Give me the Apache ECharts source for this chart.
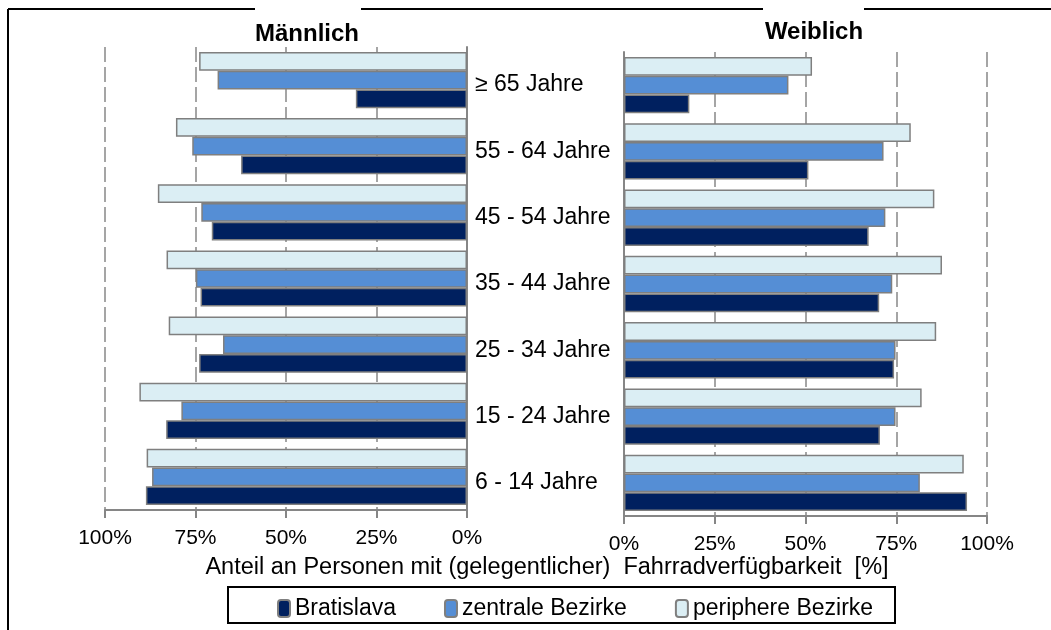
<!DOCTYPE html>
<html>
<head>
<meta charset="utf-8">
<title>Fahrradverfügbarkeit</title>
<script src="https://cdn.jsdelivr.net/npm/echarts@6/dist/echarts.min.js"></script>
<style>
    html, body { margin: 0; padding: 0; background: #fff; }
    #chart { width: 1051px; height: 630px; }
</style>
</head>
<body>
<div id="chart"></div>
<script>
// Altersgruppen, von unten nach oben
var ageGroups = ['6 - 14 Jahre', '15 - 24 Jahre', '25 - 34 Jahre', '35 - 44 Jahre', '45 - 54 Jahre', '55 - 64 Jahre', '≥ 65 Jahre'];
var seriesNames = ['Bratislava', 'zentrale Bezirke', 'periphere Bezirke'];
var pctTicks = [0, 25, 50, 75, 100];

// Männlich
var maleBratislava = [88.7, 83.1, 74.0, 73.6, 70.5, 62.4, 30.7];
var maleZentral = [87.0, 78.9, 67.4, 74.9, 73.4, 75.9, 68.9];
var malePeripher = [88.5, 90.5, 82.4, 83.0, 85.4, 80.4, 74.0];

// Weiblich
var femaleBratislava = [94.5, 70.5, 74.4, 70.3, 67.4, 50.8, 18.0];
var femaleZentral = [81.5, 74.8, 74.8, 73.9, 72.0, 71.5, 45.3];
var femalePeripher = [93.6, 82.0, 86.0, 87.6, 85.5, 79.0, 51.8];

var barColors = ['#00205f', '#558ed5', '#dbeef4'];
var FONT = '"Liberation Sans", Arial, sans-serif';

/*==========================================
 * Wertachse (Prozent)
 */
function makeValueAxis(gridIndex, inverse) {
    return {
        type: 'value',
        gridIndex: gridIndex,
        inverse: inverse,
        min: pctTicks[0],
        max: pctTicks[pctTicks.length - 1],
        interval: 25,
        axisLine: { show: true, lineStyle: { color: '#868686', width: 2 } },
        axisTick: { show: true, length: 8, lineStyle: { color: '#868686', width: 2 } },
        axisLabel: {
            margin: 18,
            color: '#000',
            fontFamily: FONT,
            fontSize: 21,
            formatter: '{value}%'
        },
        splitLine: { show: true, lineStyle: { color: '#888', width: 1.5, type: [15, 5] } }
    };
};

/*==========================================
 * Balkenserien für eine Seite
 * ECharts legt die erste Serie oben hin, darum rückwärts (periphere oben, Bratislava unten)
 */
function makeSeries(gridIndex, lists) {
    var _out = [];
    for (var i = lists.length - 1; i >= 0; i--) {
        _out.push({
            name: seriesNames[i],
            type: 'bar',
            xAxisIndex: gridIndex,
            yAxisIndex: gridIndex,
            data: lists[i],
            barGap: '0%',
            barCategoryGap: '15%',
            itemStyle: { color: barColors[i], borderColor: '#7f7f7f', borderWidth: 1.5 },
            emphasis: { disabled: true },
            animation: false
        });
    };
    return _out;
};

var myChart = echarts.init(document.getElementById('chart'));

var option = {
    animation: false,
    textStyle: { fontFamily: FONT },
    title: [
        {
            text: 'Männlich', left: 307, top: 22, textAlign: 'center', padding: 0,
            textStyle: { fontFamily: FONT, fontSize: 24, fontWeight: 'bold', color: '#000' }
        },
        {
            text: 'Weiblich', left: 814, top: 20, textAlign: 'center', padding: 0,
            textStyle: { fontFamily: FONT, fontSize: 24, fontWeight: 'bold', color: '#000' }
        },
        {
            text: 'Anteil an Personen mit (gelegentlicher)  Fahrradverfügbarkeit  [%]',
            left: 547, top: 556, textAlign: 'center', padding: 0,
            textStyle: { fontFamily: FONT, fontSize: 23.5, fontWeight: 'normal', color: '#000' }
        }
    ],
    legend: {
        data: seriesNames,
        left: 277,
        top: 597,
        itemWidth: 12,
        itemHeight: 17,
        itemGap: 48,
        padding: 0,
        selectedMode: false,
        textStyle: { fontFamily: FONT, fontSize: 23, color: '#000' }
    },
    grid: [
        { left: 105, top: 47, width: 362, height: 463 },
        { left: 624, top: 52, width: 363, height: 464 }
    ],
    xAxis: [makeValueAxis(0, true), makeValueAxis(1, false)],
    yAxis: [
        {
            type: 'category',
            gridIndex: 0,
            data: ageGroups,
            position: 'right',
            axisLine: { show: true, onZero: false, lineStyle: { color: '#868686', width: 2 } },
            axisTick: { show: false },
            axisLabel: { show: false }
        },
        {
            type: 'category',
            gridIndex: 1,
            data: ageGroups,
            position: 'left',
            axisLine: { show: true, onZero: false, lineStyle: { color: '#868686', width: 2 } },
            axisTick: { show: false },
            axisLabel: {
                align: 'left',
                margin: 149,
                color: '#000',
                fontFamily: FONT,
                fontSize: 23
            }
        }
    ],
    graphic: [
        // Rahmen links und oben (oben unterbrochen hinter den Titeln)
        { type: 'line', shape: { x1: 8, y1: 9, x2: 8, y2: 630 }, style: { stroke: '#000', lineWidth: 2 } },
        { type: 'line', shape: { x1: 8, y1: 9, x2: 255, y2: 9 }, style: { stroke: '#000', lineWidth: 2 } },
        { type: 'line', shape: { x1: 361, y1: 9, x2: 763, y2: 9 }, style: { stroke: '#000', lineWidth: 2 } },
        { type: 'line', shape: { x1: 864, y1: 9, x2: 1051, y2: 9 }, style: { stroke: '#000', lineWidth: 2 } },
        // Legendenrahmen
        { type: 'rect', shape: { x: 228, y: 587, width: 667, height: 36 }, style: { fill: 'none', stroke: '#000', lineWidth: 2 } }
    ],
    series: [].concat(
        makeSeries(0, [maleBratislava, maleZentral, malePeripher]),
        makeSeries(1, [femaleBratislava, femaleZentral, femalePeripher])
    )
};

myChart.setOption(option);
</script>
</body>
</html>
